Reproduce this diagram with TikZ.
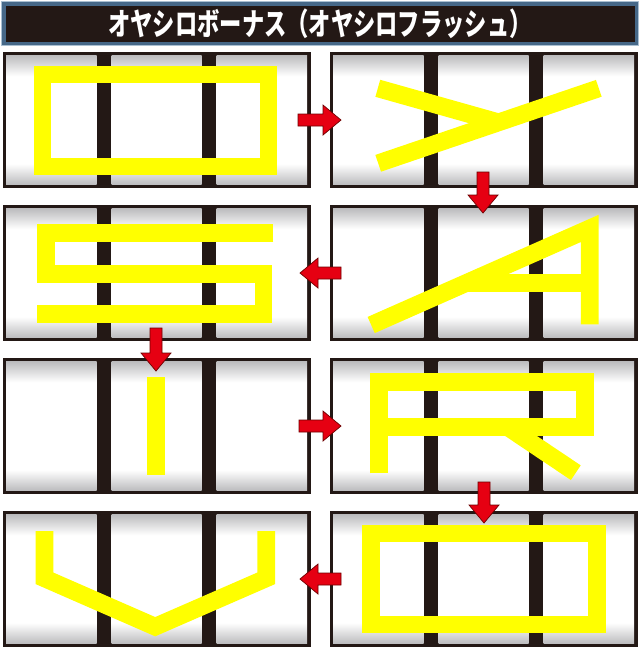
\documentclass[tikz,border=0pt]{standalone}
\usepackage{fontspec}
\usetikzlibrary{calc}
\newfontfamily\titlefont{Noto Sans CJK JP}[FakeStretch=0.72]
\definecolor{reelblack}{RGB}{35,24,21}
\definecolor{bonusyellow}{RGB}{255,255,0}
\definecolor{arrowred}{RGB}{230,0,18}
\definecolor{arrowdark}{RGB}{110,0,0}
\definecolor{framesteel}{RGB}{70,104,136}
\definecolor{framelight}{RGB}{170,192,210}
\definecolor{reelgray}{RGB}{188,188,190}
\pgfdeclareverticalshading{reelshade}{100bp}{color(0bp)=(reelgray); color(25bp)=(reelgray); color(33bp)=(white); color(67bp)=(white); color(75bp)=(reelgray); color(100bp)=(reelgray)}

% one reel window, drawn at the origin of the current scope
\newcommand{\reelpanel}{%
  \fill[reelblack] (0,0) rectangle (308,136);
  \foreach \rl/\rr in {3.5/94, 109/199, 214/304.5}
    \shade[shading=reelshade] (\rl,3.5) rectangle (\rr,132.5);
}

\begin{document}
\begin{tikzpicture}[x=0.5mm,y=-0.5mm]

%
% Styles
%
\tikzstyle{letter} = [draw=bonusyellow,line width=8.85mm,line join=miter,line cap=butt]
\tikzstyle{titletext} = [text=white,font=\titlefont\bfseries\fontsize{44}{44}\selectfont,inner sep=0pt]
\tikzstyle{flow} = [draw=arrowdark,fill=arrowred,line width=0.35mm,line join=miter,
  to path={($(\tikztostart)!3mm!90:(\tikztotarget)$)
    -- ($(\tikztotarget)!9mm!(\tikztostart)!3mm!90:(\tikztotarget)$)
    -- ($(\tikztotarget)!9mm!(\tikztostart)!7.5mm!90:(\tikztotarget)$)
    -- (\tikztotarget)
    -- ($(\tikztotarget)!9mm!(\tikztostart)!7.5mm!-90:(\tikztotarget)$)
    -- ($(\tikztotarget)!9mm!(\tikztostart)!3mm!-90:(\tikztotarget)$)
    -- ($(\tikztostart)!3mm!-90:(\tikztotarget)$) -- cycle}]

\useasboundingbox (0,0) rectangle (640,648);
\fill[white] (0,0) rectangle (640,648);

% title bar
\fill[framesteel] (1,1) rectangle (639,46);
\draw[framelight,line width=0.5mm] (1.5,1.5) rectangle (638.5,45.5);
\fill[reelblack] (5.5,5.5) rectangle (634.5,41.5);
\node[titletext] (title) at (320,23.5) {オヤシロボーナス（オヤシロフラッシュ）};

% O
\begin{scope}[shift={(2.5,52)}]
  \reelpanel
  \draw[letter] (40,22.5) rectangle (266,114.5);
\end{scope}

% Y
\begin{scope}[shift={(329.5,52)}]
  \reelpanel
  \draw[letter] (48.3,36.3) -- (168.9,70.3);
  \draw[letter] (48.7,111.3) -- (269.3,36.3);
\end{scope}

% S
\begin{scope}[shift={(2.5,205)}]
  \reelpanel
  \draw[letter] (270.8,28) -- (43.8,28) -- (43.8,69.3) -- (261,69.3) -- (261,109) -- (34.7,109);
\end{scope}

% A
\begin{scope}[shift={(329.5,205)}]
  \reelpanel
  \draw[letter] (41.7,120) -- (260.3,23.4) -- (260.3,119.3);
  \draw[letter] (136,78.3) -- (260.3,78.3);
\end{scope}

% I
\begin{scope}[shift={(2.5,358)}]
  \reelpanel
  \draw[letter,line width=9.15mm] (153.3,19.3) -- (153.3,117);
\end{scope}

% R
\begin{scope}[shift={(329.5,358)}]
  \reelpanel
  \draw[letter] (49.5,115.3) -- (49.5,24.3) -- (255.7,24.3) -- (255.7,68.7) -- (49.5,68.7);
  \draw[letter] (177.7,68.7) -- (246.3,114.7);
\end{scope}

% V
\begin{scope}[shift={(2.5,511)}]
  \reelpanel
  \draw[letter] (42,20) -- (42,67.3) -- (152.7,115.7) -- (263.7,67.3) -- (263.7,20);
\end{scope}

% O
\begin{scope}[shift={(329.5,511)}]
  \reelpanel
  \draw[letter] (41.7,22.5) rectangle (267.2,113.5);
\end{scope}

% arrow ends
\coordinate (oy1) at (298,120);
\coordinate (oy2) at (341,120);
\coordinate (ya1) at (483,172);
\coordinate (ya2) at (483,213);
\coordinate (as1) at (341,273);
\coordinate (as2) at (300,273);
\coordinate (si1) at (156,328);
\coordinate (si2) at (156,371);
\coordinate (ir1) at (299,426);
\coordinate (ir2) at (341,426);
\coordinate (ro1) at (484,482);
\coordinate (ro2) at (484,523);
\coordinate (ov1) at (341,579);
\coordinate (ov2) at (300,579);

\draw[flow] (oy1) to (oy2);
\draw[flow] (ya1) to (ya2);
\draw[flow] (as1) to (as2);
\draw[flow] (si1) to (si2);
\draw[flow] (ir1) to (ir2);
\draw[flow] (ro1) to (ro2);
\draw[flow] (ov1) to (ov2);

\end{tikzpicture}
\end{document}
